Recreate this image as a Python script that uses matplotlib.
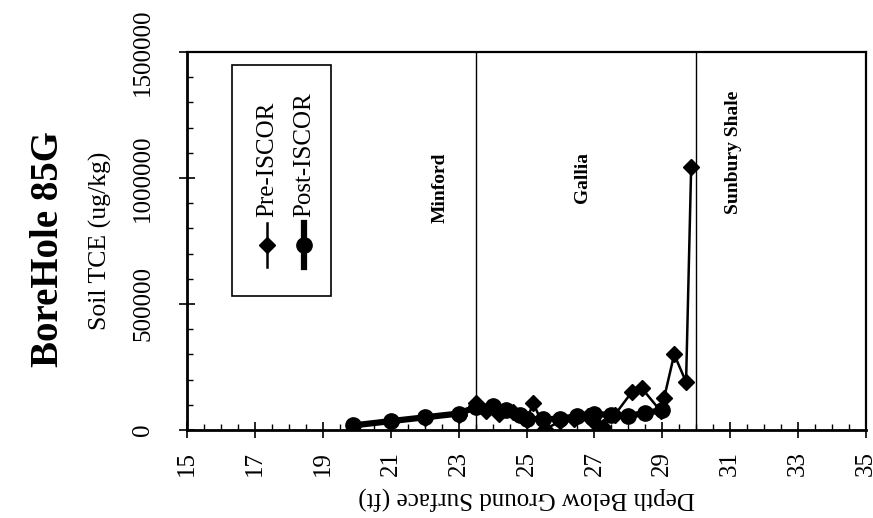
import matplotlib
matplotlib.use("Agg")
import matplotlib.pyplot as plt
from matplotlib.lines import Line2D
from matplotlib.patches import Rectangle
from matplotlib.ticker import MultipleLocator, FixedLocator, FuncFormatter

plt.rcParams['font.family'] = ['Liberation Serif', 'DejaVu Serif']

# Soil TCE profile, borehole 85G
pre_depth = [21.0, 22.0, 23.0, 23.5, 23.8, 24.2, 24.6, 25.0, 25.2, 25.55,
             26.0, 26.4, 26.8, 27.0, 27.25, 27.6, 28.1, 28.4, 28.95, 29.05,
             29.35, 29.7, 29.85]
pre_tce = [30000, 48000, 60000, 105000, 75000, 65000, 70000, 40000, 105000, 3000,
           35000, 45000, 55000, 30000, 12000, 60000, 150000, 165000, 75000, 125000,
           300000, 190000, 1045000]

post_depth = [19.9, 21.0, 22.0, 23.0, 23.5, 24.0, 24.4, 24.8, 25.0, 25.5,
              26.0, 26.5, 27.0, 27.5, 28.0, 28.5, 29.0]
post_tce = [18000, 35000, 50000, 65000, 90000, 95000, 80000, 60000, 45000, 42000,
            45000, 55000, 65000, 58000, 55000, 68000, 78000]

depth_ticks = [15, 17, 19, 21, 23, 25, 27, 29, 31, 33, 35]
tce_ticks = [0, 500000, 1000000, 1500000]

boundaries = [23.5, 30.0]
formations = ["Minford", "Gallia", "Sunbury Shale"]
formation_x = [22.45, 26.65, 31.1]
formation_y = [960000, 1000000, 1100000]

series_labels = ["Pre-ISCOR", "Post-ISCOR"]

fig = plt.figure(figsize=(8.73, 5.18), dpi=100)
ax = fig.add_axes([0.2142, 0.170, 0.7778, 0.7296])

ax.plot(pre_depth, pre_tce, color='black', lw=1.8, marker='D', ms=8,
        mfc='black', mec='black', zorder=4)
ax.plot(post_depth, post_tce, color='black', lw=4.5, marker='o', ms=11,
        mfc='black', mec='black', zorder=3)

for b in boundaries:
    ax.axvline(b, color='black', lw=1.0, zorder=2)

for name, fx, fy in zip(formations, formation_x, formation_y):
    ax.text(fx, fy, name, rotation=90, ha='center', va='center',
            fontsize=14, fontweight='bold')

ax.set_xlim(depth_ticks[0], depth_ticks[-1])
ax.set_ylim(tce_ticks[0], tce_ticks[-1])
ax.xaxis.set_major_locator(FixedLocator(depth_ticks))
ax.xaxis.set_minor_locator(MultipleLocator(0.5))
ax.yaxis.set_major_locator(FixedLocator(tce_ticks))
ax.yaxis.set_minor_locator(MultipleLocator(100000))
ax.yaxis.set_major_formatter(FuncFormatter(lambda v, p: f"{int(round(v))}"))

ax.tick_params(which='major', direction='inout', length=11, width=1.2,
               labelsize=18)
ax.tick_params(which='minor', direction='in', length=4.5, width=1.0)
ax.tick_params(axis='x', which='major', labelrotation=90, pad=10)
ax.tick_params(axis='y', which='major', labelrotation=90, pad=18)
for lab in ax.get_yticklabels():
    lab.set_va('center')

for side in ['left', 'bottom']:
    ax.spines[side].set_linewidth(2.0)
for side in ['top', 'right']:
    ax.spines[side].set_linewidth(1.6)

ax.set_xlabel("Depth Below Ground Surface (ft)", rotation=180, fontsize=18,
              labelpad=7)
ax.set_ylabel("Soil TCE (ug/kg)", fontsize=18.5, labelpad=15)

fig.text(0.055, 0.52, "BoreHole 85G", rotation=90, ha='center', va='center',
         fontsize=28, fontweight='bold')

# legend drawn upright with the rotated layout
ax.add_patch(Rectangle((0.066, 0.354), 0.146, 0.612, transform=ax.transAxes,
                       fill=False, ec='black', lw=1.2, zorder=5))
leg_x = [0.118, 0.172]
leg_styles = [dict(lw=1.8, marker='D', ms=8), dict(lw=4.5, marker='o', ms=11)]
for lx, style, label in zip(leg_x, leg_styles, series_labels):
    ax.add_line(Line2D([lx, lx, lx], [0.432, 0.49, 0.548], transform=ax.transAxes,
                       color='black', markevery=[1], zorder=6, **style))
    ax.text(lx, 0.563, label, transform=ax.transAxes, rotation=90,
            ha='center', va='bottom', fontsize=18, zorder=6)

fig.savefig("out.png", dpi=100)
